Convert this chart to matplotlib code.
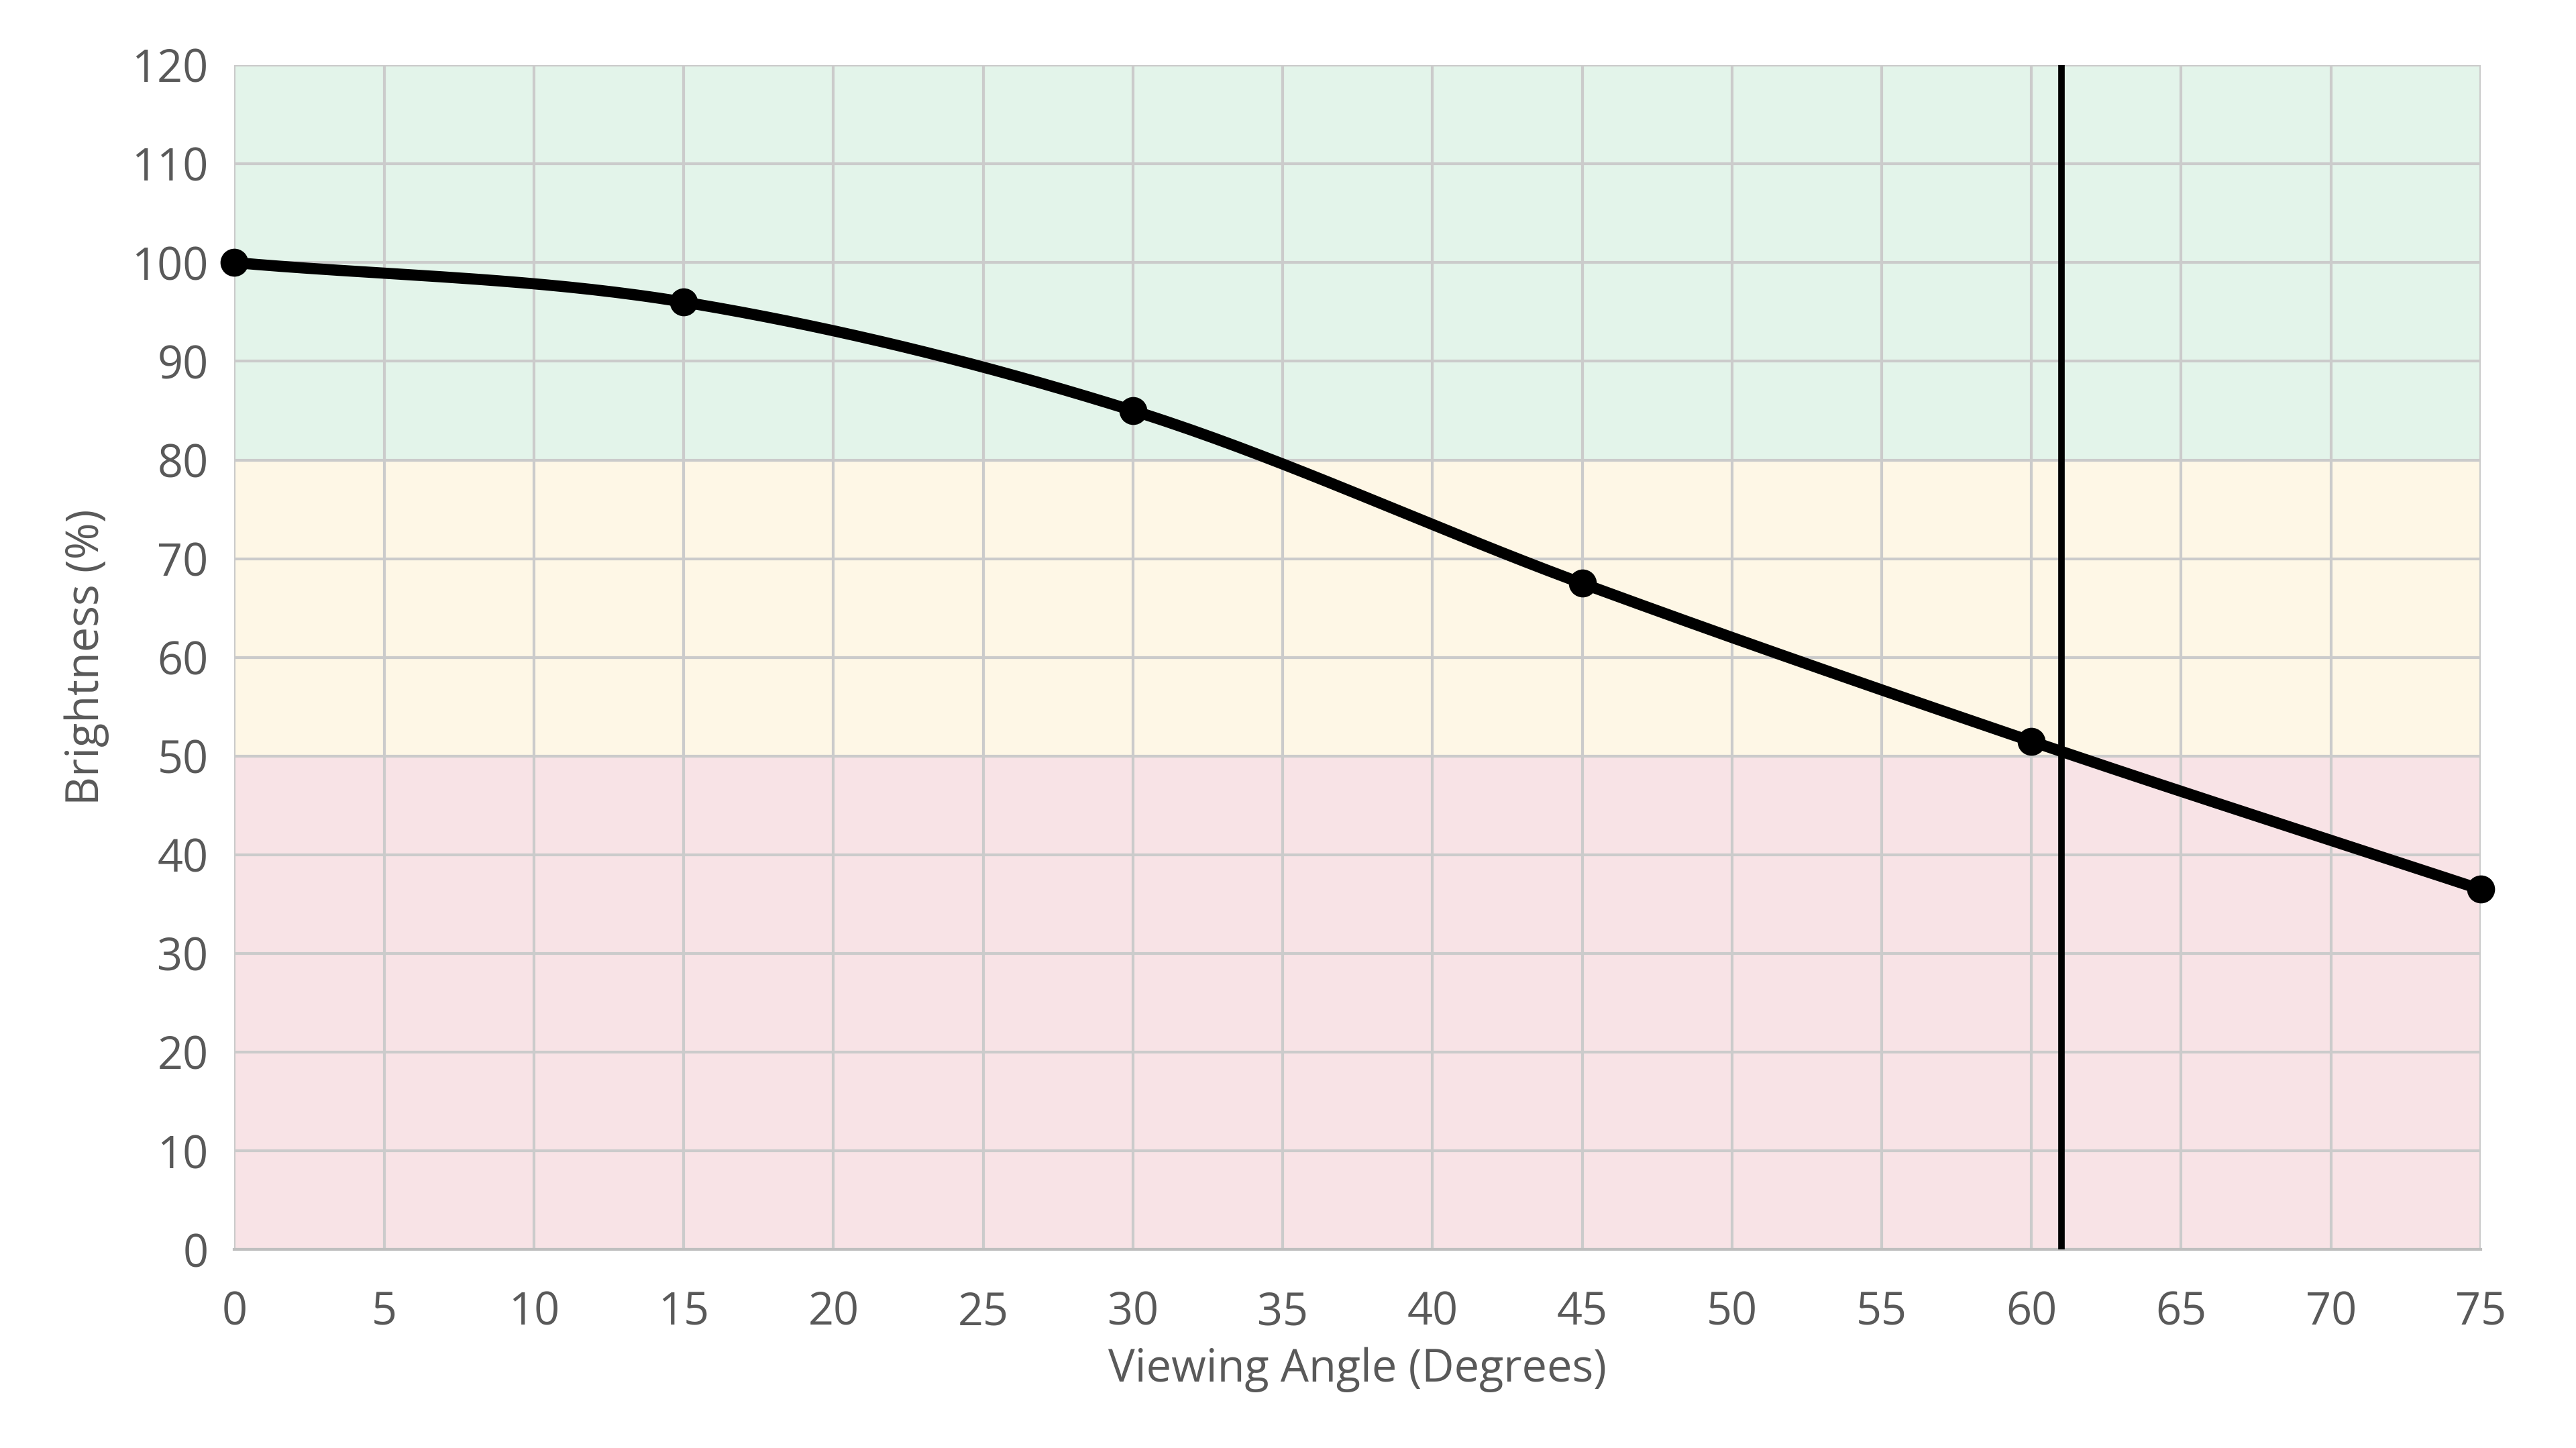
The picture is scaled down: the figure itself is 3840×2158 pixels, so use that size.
import matplotlib
matplotlib.use("Agg")
import matplotlib.pyplot as plt
import numpy as np

angles = [0, 15, 30, 45, 60, 75]
brightness = [100, 96, 85, 67.5, 51.5, 36.5]
cutoff_angle = 61
bands = [(0, 50, "#f8e3e6"), (50, 80, "#fef7e6"), (80, 120, "#e3f4ea")]
x_ticks = list(range(0, 80, 5))
y_ticks = list(range(0, 130, 10))

plt.rcParams["font.family"] = ["Open Sans", "DejaVu Sans"]


def smooth(x, y, n=40):
    # Catmull-Rom style smoothing, similar to a spreadsheet "smoothed line"
    x = np.asarray(x, float)
    y = np.asarray(y, float)
    px = np.concatenate([[2 * x[0] - x[1]], x, [2 * x[-1] - x[-2]]])
    py = np.concatenate([[2 * y[0] - y[1]], y, [2 * y[-1] - y[-2]]])
    xs, ys = [], []
    t = np.linspace(0, 1, n)
    for i in range(1, len(px) - 2):
        for p, out in ((px, xs), (py, ys)):
            p0, p1, p2, p3 = p[i - 1], p[i], p[i + 1], p[i + 2]
            out.extend(0.5 * (2 * p1 + (-p0 + p2) * t
                              + (2 * p0 - 5 * p1 + 4 * p2 - p3) * t ** 2
                              + (-p0 + 3 * p1 - 3 * p2 + p3) * t ** 3))
    return xs, ys


fig = plt.figure(figsize=(19.2, 10.79), dpi=200)
ax = fig.add_axes([0.091, 0.137, 0.872, 0.818])

for lo, hi, color in bands:
    ax.axhspan(lo, hi, color=color, zorder=0, lw=0)

sx, sy = smooth(angles, brightness)
ax.plot(sx, sy, color="black", lw=6, zorder=3, solid_capstyle="round")
ax.plot(angles, brightness, "o", color="black", ms=14, zorder=4, clip_on=False)
ax.axvline(cutoff_angle, color="black", lw=3.5, zorder=3)

ax.set_xlim(0, 75)
ax.set_ylim(0, 120)
ax.set_xticks(x_ticks)
ax.set_yticks(y_ticks)
ax.grid(True, color="#cbcbcb", lw=1.5, zorder=1)
ax.set_axisbelow(True)
for side in ["top", "right", "left"]:
    ax.spines[side].set_visible(False)
ax.spines["bottom"].set_color("#bfbfbf")
ax.spines["bottom"].set_linewidth(1.5)
ax.tick_params(axis="both", labelsize=24, colors="#595959", length=0, pad=14)
ax.tick_params(axis="x", pad=22)
ax.set_xlabel("Viewing Angle (Degrees)", fontsize=24, color="#595959", labelpad=6)
ax.set_ylabel("Brightness (%)", fontsize=24, color="#595959", labelpad=12)

fig.savefig("out.png", dpi=200)
